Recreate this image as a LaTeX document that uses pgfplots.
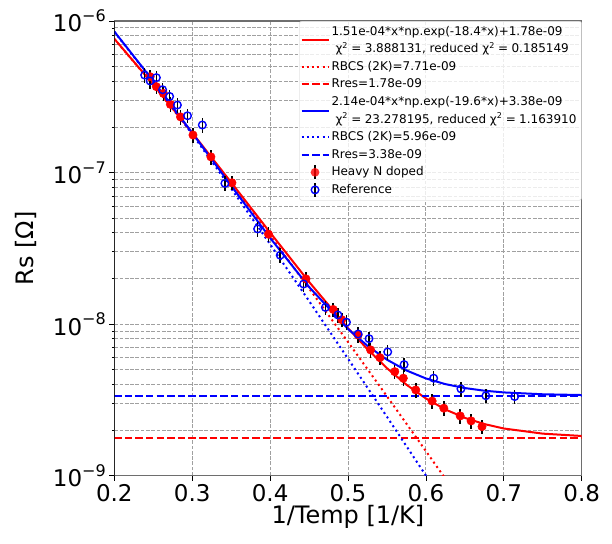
\documentclass[border=0pt]{standalone}
\usepackage{pgfplots}
\pgfplotsset{compat=1.18}
\usepackage{fontspec}
\setmainfont{DejaVu Sans}
\definecolor{gridgray}{RGB}{160,160,160}
\definecolor{spinegray}{RGB}{110,110,110}
\newcommand{\tl}[1]{10\raisebox{0.45em}{\fontsize{16}{16}\selectfont −#1}}
\newcommand{\chisq}{χ\textsuperscript{2}}

\begin{document}
\begin{tikzpicture}
\begin{axis}[
  name=ax,
  scale only axis,
  width=467.4pt, height=454.7pt,
  xmin=0.2, xmax=0.8, ymin=1e-9, ymax=1e-6,
  ymode=log,
  xtick={0.2,0.3,0.4,0.5,0.6,0.7,0.8},
  xticklabels={0.2,0.3,0.4,0.5,0.6,0.7,0.8},
  ytick={1e-9,1e-8,1e-7,1e-6},
  yticklabels={\tl{9},\tl{8},\tl{7},\tl{6}},
  minor ytick={2e-9,3e-9,4e-9,5e-9,6e-9,7e-9,8e-9,9e-9,2e-8,3e-8,4e-8,5e-8,6e-8,7e-8,8e-8,9e-8,2e-7,3e-7,4e-7,5e-7,6e-7,7e-7,8e-7,9e-7},
  xmajorgrids=true, ymajorgrids=true, yminorgrids=true,
  grid style={gridgray, line width=0.9pt, dash pattern=on 3.7pt off 1.6pt},
  minor grid style={gridgray, line width=0.9pt, dash pattern=on 3.7pt off 1.6pt},
  major grid style={gridgray, line width=0.9pt, dash pattern=on 3.7pt off 1.6pt},
  tick align=outside,
  xtick pos=bottom, ytick pos=left,
  major tick length=5pt, minor tick length=2.5pt,
  tick style={black, line width=0.8pt},
  axis line style={spinegray, line width=1.4pt},
  ticklabel style={font=\fontsize{23}{27}\selectfont},
  xlabel={1/Temp [1/K]},
  ylabel={Rs [Ω]},
  every axis x label/.style={at={(axis description cs:0.5,-0.09)}, anchor=center, font=\fontsize{24}{28}\selectfont},
  every axis y label/.style={at={(axis description cs:-0.188,0.5)}, rotate=90, anchor=center, font=\fontsize{24}{28}\selectfont},
  legend style={
    at={(1,1)}, anchor=north east,
    draw=black!20, fill=white, fill opacity=0.8, text opacity=1,
    rounded corners=2pt,
    font=\fontsize{12}{14}\selectfont,
    cells={anchor=west},
    nodes={inner ysep=1.3pt, inner xsep=3pt, text height=11pt, text depth=4pt},
    inner xsep=2pt, inner ysep=1.5pt,
    row sep=0pt,
  },
  legend image code/.code={\path[draw=none] (0pt,0pt) -- (27pt,0pt); \draw[#1, overlay] (0pt,0pt) -- (27pt,0pt);},
]

% red fit
\addplot[red, line width=2pt,
  legend image code/.code={\path[draw=none] (0pt,0pt) -- (27pt,0pt); \draw[red, line width=2pt, overlay] (0pt,-8.8pt) -- (27pt,-8.8pt);}] coordinates {
(0.200,7.635e-7) (0.250,3.812e-7) (0.300,1.832e-7) (0.350,8.615e-8)
(0.400,4.021e-8) (0.450,1.901e-8) (0.500,9.408e-9) (0.525,6.837e-9)
(0.550,5.124e-9) (0.575,3.987e-9) (0.600,3.234e-9) (0.625,2.736e-9)
(0.650,2.408e-9) (0.675,2.192e-9) (0.700,2.049e-9) (0.750,1.895e-9)
(0.800,1.829e-9)};
\addlegendentry{1.51e-04*x*np.exp(-18.4*x)+1.78e-09}
\addlegendimage{empty legend}
\addlegendentry{\hspace{4pt}\chisq\;=\;3.888131, reduced \chisq\;=\;0.185149}

\addplot[red, line width=2pt, dash pattern=on 2pt off 3.3pt] coordinates {
(0.20,7.617e-7) (0.25,3.795e-7) (0.30,1.815e-7) (0.35,8.437e-8)
(0.40,3.843e-8) (0.45,1.723e-8) (0.50,7.628e-9) (0.55,3.344e-9)
(0.60,1.454e-9) (0.65,6.277e-10)};
\addlegendentry{RBCS (2K)=7.71e-09}

\addplot[red, line width=2pt, dash pattern=on 7.4pt off 3.2pt] coordinates {
(0.2,1.78e-9) (0.8,1.78e-9)};
\addlegendentry{Rres=1.78e-09}

% blue fit
\addplot[blue, line width=2pt,
  legend image code/.code={\path[draw=none] (0pt,0pt) -- (27pt,0pt); \draw[blue, line width=2pt, overlay] (0pt,-8.8pt) -- (27pt,-8.8pt);}] coordinates {
(0.200,8.526e-7) (0.250,4.018e-7) (0.300,1.828e-7) (0.350,8.194e-8)
(0.400,3.708e-8) (0.450,1.761e-8) (0.500,9.298e-9) (0.525,7.197e-9)
(0.550,5.830e-9) (0.575,4.949e-9) (0.600,4.383e-9) (0.625,4.020e-9)
(0.650,3.788e-9) (0.675,3.639e-9) (0.700,3.545e-9) (0.750,3.446e-9)
(0.800,3.407e-9)};
\addlegendentry{2.14e-04*x*np.exp(-19.6*x)+3.38e-09}
\addlegendimage{empty legend}
\addlegendentry{\hspace{4pt}\chisq\;=\;23.278195, reduced \chisq\;=\;1.163910}

\addplot[blue, line width=2pt, dash pattern=on 2pt off 3.3pt] coordinates {
(0.20,8.492e-7) (0.25,3.984e-7) (0.30,1.794e-7) (0.35,7.856e-8)
(0.40,3.370e-8) (0.45,1.423e-8) (0.50,5.918e-9) (0.55,2.450e-9)
(0.60,1.003e-9) (0.65,4.078e-10)};
\addlegendentry{RBCS (2K)=5.96e-09}

\addplot[blue, line width=2pt, dash pattern=on 7.4pt off 3.2pt] coordinates {
(0.2,3.38e-9) (0.8,3.38e-9)};
\addlegendentry{Rres=3.38e-09}

% Heavy N doped
\addplot[only marks, mark=*, mark size=4.2pt, red, mark options={fill=red, draw=red, line width=0.5pt},
  legend image code/.code={\path[draw=none] (0pt,0pt) -- (27pt,0pt); \draw[black, line width=1.5pt, overlay] (13.5pt,-7pt) -- (13.5pt,7pt); \fill[red, draw=none, overlay] (13.5pt,0pt) circle (4.4pt);},
  error bars/.cd, y dir=both, y explicit relative, error bar style={black, line width=1.5pt}, error mark=none]
  table[x=x, y=y, y error=e] {
x y e
0.246 4.29e-7 0.11
0.254 3.69e-7 0.11
0.263 3.33e-7 0.11
0.272 2.82e-7 0.11
0.285 2.33e-7 0.11
0.301 1.77e-7 0.11
0.324 1.27e-7 0.11
0.351 8.57e-8 0.11
0.398 3.92e-8 0.11
0.446 1.99e-8 0.11
0.481 1.25e-8 0.11
0.492 1.07e-8 0.11
0.513 8.49e-9 0.11
0.529 6.76e-9 0.11
0.541 6.01e-9 0.11
0.560 4.86e-9 0.11
0.571 4.40e-9 0.11
0.587 3.68e-9 0.11
0.608 3.11e-9 0.11
0.623 2.79e-9 0.11
0.644 2.48e-9 0.11
0.658 2.30e-9 0.11
0.672 2.11e-9 0.11
};
\addlegendentry{Heavy N doped}

% Reference
\addplot[only marks, mark=o, mark size=3.8pt, blue, mark options={draw=blue, line width=1.4pt},
  legend image code/.code={\path[draw=none] (0pt,0pt) -- (27pt,0pt); \draw[black, line width=1.5pt, overlay] (13.5pt,-7pt) -- (13.5pt,7pt); \draw[blue, line width=1.4pt, fill=none, overlay] (13.5pt,0pt) circle (3.8pt);},
  error bars/.cd, y dir=both, y explicit relative, error bar style={black, line width=1.5pt}, error mark=none]
  table[x=x, y=y, y error=e] {
x y e
0.239 4.40e-7 0.11
0.246 4.02e-7 0.11
0.254 4.23e-7 0.11
0.262 3.52e-7 0.11
0.271 3.18e-7 0.11
0.281 2.79e-7 0.11
0.294 2.37e-7 0.11
0.313 2.06e-7 0.11
0.342 8.49e-8 0.11
0.384 4.25e-8 0.11
0.413 2.85e-8 0.11
0.443 1.84e-8 0.11
0.471 1.29e-8 0.11
0.487 1.15e-8 0.11
0.498 1.03e-8 0.11
0.513 8.61e-9 0.11
0.527 8.02e-9 0.11
0.551 6.56e-9 0.11
0.572 5.41e-9 0.11
0.610 4.40e-9 0.11
0.645 3.74e-9 0.11
0.677 3.37e-9 0.11
0.714 3.33e-9 0.11
};
\addlegendentry{Reference}

\draw[black, line width=1pt] (rel axis cs:0,0) -- (rel axis cs:0,1);
\end{axis}
\pgfresetboundingbox
\path[use as bounding box] ([shift={(-114.3pt,-67.3pt)}]ax.south west) rectangle ([shift={(30.3pt,21pt)}]ax.north east);
\end{tikzpicture}
\end{document}
